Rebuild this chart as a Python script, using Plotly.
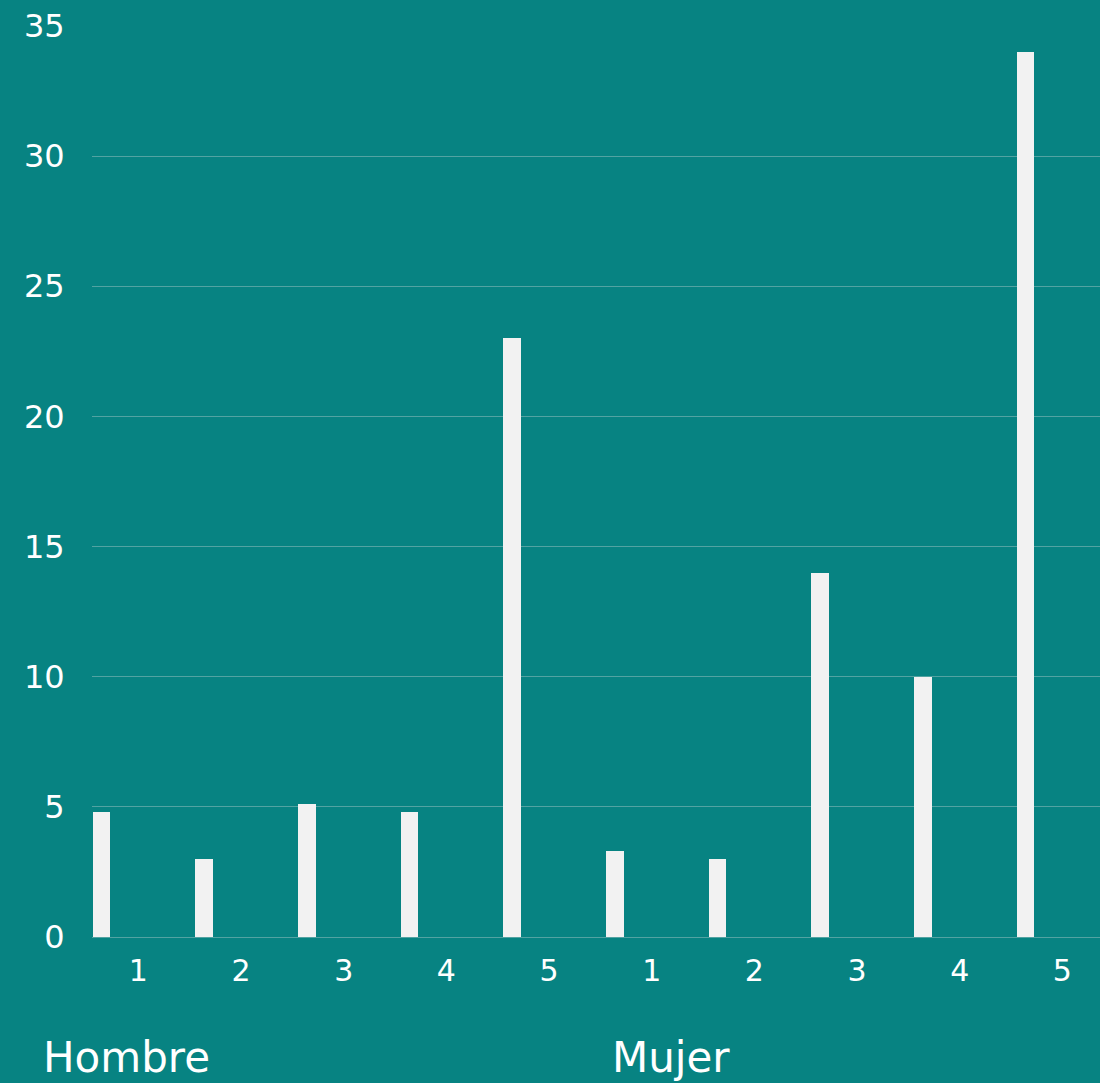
import plotly.graph_objects as go

# Survey ratings by gender: five rating levels for each group
groups = ["Hombre", "Mujer"]
ratings = ["1", "2", "3", "4", "5"]
values = [4.8, 3, 5.1, 4.8, 23, 3.3, 3, 14, 10, 34]
y_ticks = [0, 5, 10, 15, 20, 25, 30, 35]

bg = "#078382"
bar_color = "#F2F2F2"
grid_color = "#52A3A2"
font_family = "DejaVu Sans, sans-serif"

positions = list(range(len(groups) * len(ratings)))
tick_text = ratings * len(groups)

fig = go.Figure()
fig.add_trace(go.Bar(
    x=positions,
    y=values,
    width=0.17,
    offset=-0.445,
    marker=dict(color=bar_color, line=dict(width=0)),
    showlegend=False,
    hoverinfo="y",
))

fig.update_layout(
    width=1100,
    height=1083,
    paper_bgcolor=bg,
    plot_bgcolor=bg,
    margin=dict(l=92, r=0, t=26, b=146),
    font=dict(family=font_family, color="white"),
    bargap=0,
)

fig.update_xaxes(
    range=[-0.452, 9.366],
    tickmode="array",
    tickvals=positions,
    ticktext=tick_text,
    tickfont=dict(size=30, color="white"),
    ticks="outside",
    ticklen=7,
    tickcolor="rgba(0,0,0,0)",
    showgrid=False,
    showline=True,
    linecolor=grid_color,
    linewidth=1,
    zeroline=False,
)

fig.update_yaxes(
    range=[0, 35],
    tickmode="array",
    tickvals=y_ticks,
    ticktext=[str(v) for v in y_ticks],
    tickfont=dict(size=32, color="white"),
    ticks="outside",
    ticklen=20,
    tickcolor="rgba(0,0,0,0)",
    showgrid=True,
    gridcolor=grid_color,
    gridwidth=1,
    zeroline=False,
    showline=False,
)

# Group labels under the rating ticks
group_x = [-0.0506, 0.5139]
for name, gx in zip(groups, group_x):
    fig.add_annotation(
        text=name,
        xref="paper", yref="paper",
        x=gx, y=-0.1325,
        xanchor="left", yanchor="middle",
        showarrow=False,
        font=dict(size=42, color="white", family=font_family),
    )

fig.write_html("out.html")
